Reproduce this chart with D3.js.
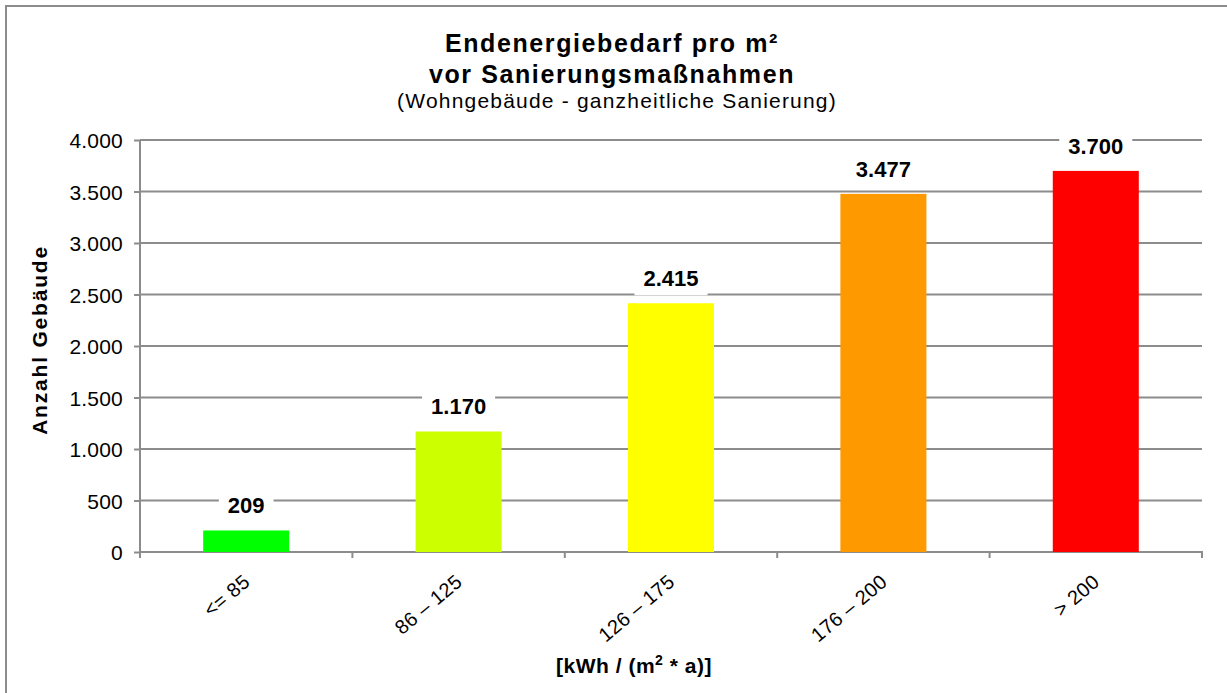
<!DOCTYPE html>
<html>
<head>
<meta charset="utf-8">
<script src="https://cdn.jsdelivr.net/npm/d3@7.9.0/dist/d3.min.js"></script>
<style>
  body { margin: 0; background: #fff; }
  svg { display: block; font-family: "Liberation Sans", Arial, sans-serif; }
</style>
</head>
<body>
<svg id="chart" width="1227" height="693"></svg>
<script>
// chart data
const categories = ["<= 85", "86 – 125", "126 – 175", "176 – 200", "> 200"];
const values = [209, 1170, 2415, 3477, 3700];
const barColors = ["#00ff00", "#ccff00", "#ffff00", "#ff9900", "#ff0000"];
const yTicks = [0, 500, 1000, 1500, 2000, 2500, 3000, 3500, 4000];

// german number format (3.700)
const de = d3.formatLocale({ decimal: ",", thousands: ".", grouping: [3], currency: ["", " €"] });
const fmt = de.format(",d");

const svg = d3.select("#chart");
const gray = "#8c8c8c";

// outer frame
svg.append("rect")
  .attr("x", 6).attr("y", 6)
  .attr("width", 1240).attr("height", 700)
  .attr("fill", "none").attr("stroke", gray).attr("stroke-width", 2);

const plotLeft = 140, plotRight = 1202, plotTop = 140, plotBottom = 552;

const x = d3.scaleBand().domain(categories).range([plotLeft, plotRight])
  .paddingInner(0.595).paddingOuter(0.2975);
const y = d3.scaleLinear().domain([0, 4000]).range([plotBottom, plotTop]);

// gridlines
svg.append("g").selectAll("line")
  .data(yTicks.filter(d => d > 0))
  .join("line")
  .attr("x1", plotLeft).attr("x2", plotRight)
  .attr("y1", d => y(d)).attr("y2", d => y(d))
  .attr("stroke", gray).attr("stroke-width", 2);

// y axis
const yAxis = svg.append("g")
  .attr("transform", `translate(${plotLeft},0)`)
  .call(d3.axisLeft(y).tickValues(yTicks).tickSize(6).tickPadding(11).tickFormat(fmt));
yAxis.select(".domain").attr("stroke", gray).attr("stroke-width", 2)
  .attr("d", `M0,${plotTop}V${plotBottom + 6}`);
yAxis.selectAll(".tick line").attr("stroke", gray).attr("stroke-width", 2);
yAxis.selectAll(".tick text").attr("font-size", 21).attr("fill", "#000")
  .attr("letter-spacing", 0.2)
  .attr("font-family", "Liberation Sans, Arial, sans-serif").attr("dy", "0.36em");

// x axis line
svg.append("line")
  .attr("x1", plotLeft).attr("x2", plotRight + 1)
  .attr("y1", plotBottom).attr("y2", plotBottom)
  .attr("stroke", gray).attr("stroke-width", 2);

// tick marks between categories
const bounds = categories.map(c => x(c) + x.bandwidth() / 2 + x.step() / 2);
svg.append("g").selectAll("line")
  .data(bounds)
  .join("line")
  .attr("x1", d => d).attr("x2", d => d)
  .attr("y1", plotBottom).attr("y2", plotBottom + 6)
  .attr("stroke", gray).attr("stroke-width", 2);

// bars
svg.append("g").selectAll("rect")
  .data(values)
  .join("rect")
  .attr("x", (d, i) => x(categories[i]))
  .attr("y", d => y(d))
  .attr("width", x.bandwidth())
  .attr("height", d => plotBottom - y(d))
  .attr("fill", (d, i) => barColors[i]);

// value labels with white box
const labels = svg.append("g");
values.forEach((v, i) => {
  const cx = x(categories[i]) + x.bandwidth() / 2;
  const by = y(v) - 17;
  const bg = labels.append("rect").attr("fill", "#fff");
  const t = labels.append("text")
    .attr("x", cx).attr("y", by)
    .attr("text-anchor", "middle")
    .attr("font-size", 22).attr("font-weight", "bold")
    .text(fmt(v));
  const w = t.node().getComputedTextLength();
  bg.attr("x", cx - w / 2 - 9).attr("y", by - 21)
    .attr("width", w + 18).attr("height", 30);
});

// x tick labels, rotated
svg.append("g").selectAll("text")
  .data(categories)
  .join("text")
  .attr("transform", d => `translate(${x(d) + x.bandwidth() / 2 + 5},584) rotate(-40)`)
  .attr("text-anchor", "end")
  .attr("font-size", 20)
  .attr("letter-spacing", 0.3)
  .text(d => d);

// titles
const title = svg.append("text").attr("text-anchor", "middle").attr("font-weight", "bold")
  .attr("font-size", 25).attr("letter-spacing", 1.6);
title.append("tspan").attr("x", 612).attr("y", 52).text("Endenergiebedarf pro m²");
title.append("tspan").attr("x", 612).attr("y", 83).text("vor Sanierungsmaßnahmen");
svg.append("text").attr("x", 617).attr("y", 108).attr("text-anchor", "middle")
  .attr("font-size", 21).attr("letter-spacing", 1.2)
  .text("(Wohngebäude - ganzheitliche Sanierung)");

// axis titles
svg.append("text")
  .attr("transform", "translate(47,340) rotate(-90)")
  .attr("text-anchor", "middle").attr("font-weight", "bold")
  .attr("font-size", 21).attr("letter-spacing", 1.8)
  .text("Anzahl Gebäude");

const xt = svg.append("text")
  .attr("x", 634).attr("y", 673)
  .attr("text-anchor", "middle").attr("font-weight", "bold")
  .attr("font-size", 21).attr("letter-spacing", 0.5);
xt.append("tspan").text("[kWh / (m");
xt.append("tspan").attr("font-size", 14).attr("dy", -8).text("2");
xt.append("tspan").attr("dy", 8).text(" * a)]");
</script>
</body>
</html>
